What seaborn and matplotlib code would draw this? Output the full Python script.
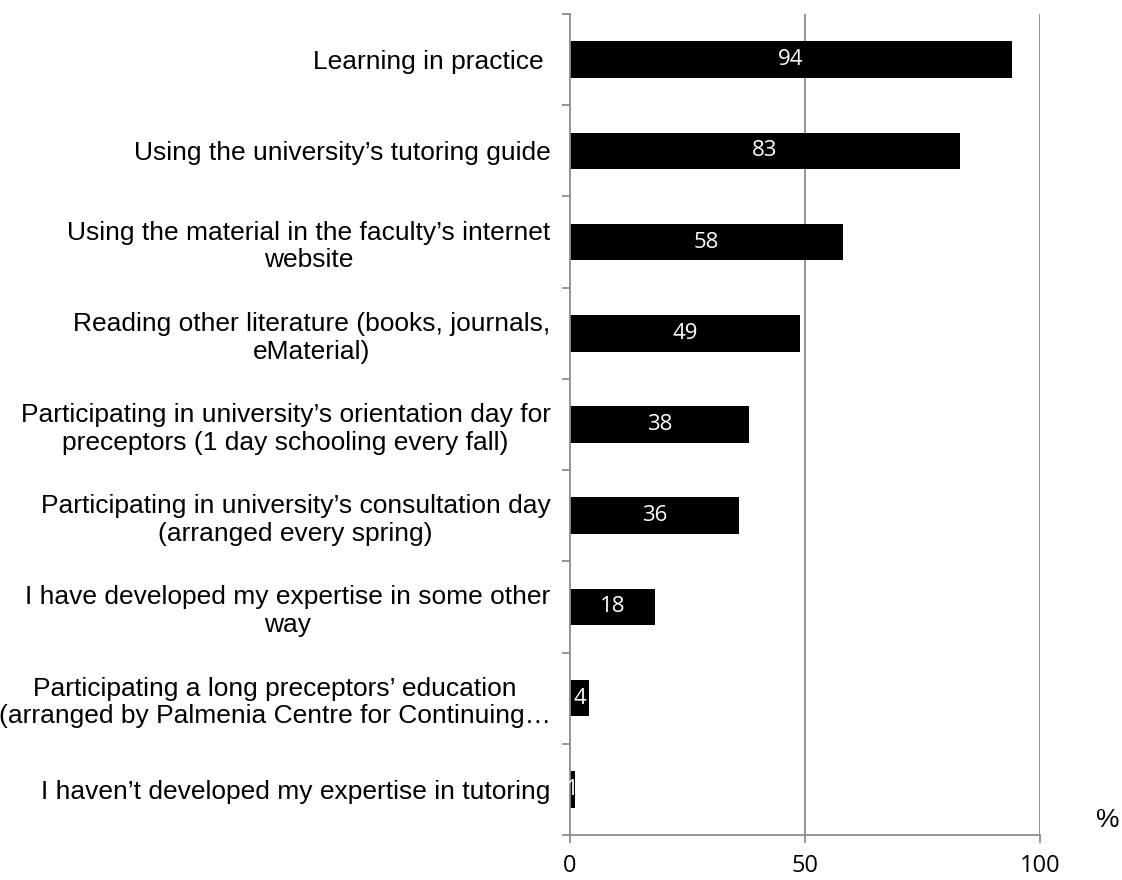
import matplotlib
matplotlib.use("Agg")
import matplotlib.pyplot as plt
import seaborn as sns
import pandas as pd
import numpy as np

categories = [
    "Learning in practice ",
    "Using the university\u2019s tutoring guide",
    "Using the material in the faculty\u2019s internet\nwebsite",
    "Reading other literature (books, journals,\neMaterial)",
    "Participating in university\u2019s orientation day for\npreceptors (1 day schooling every fall)",
    "Participating in university\u2019s consultation day\n(arranged every spring)",
    "I have developed my expertise in some other\nway",
    "Participating a long preceptors\u2019 education\n(arranged by Palmenia Centre for Continuing\u2026",
    "I haven\u2019t developed my expertise in tutoring",
]
values = [94, 83, 58, 49, 38, 36, 18, 4, 1]
xticks = [0, 50, 100]

df = pd.DataFrame({"cat": categories, "val": values})

sns.set_theme(style="white")
plt.rcParams['font.family'] = ['Liberation Sans', 'DejaVu Sans']
plt.rcParams['text.color'] = 'black'
plt.rcParams['xtick.color'] = 'black'
plt.rcParams['ytick.color'] = 'black'

fig = plt.figure(figsize=(11.22, 8.8), dpi=100)
ax = fig.add_axes([570/1122, 1-835/880, (1040-570)/1122, (835-14)/880])

sns.barplot(data=df, y="cat", x="val", orient="h", color="black",
            width=0.4, ax=ax, saturation=1, edgecolor="black", linewidth=0)

ax.set_xlim(0, 100)
ax.set_ylim(len(categories)-0.5, -0.5)
ax.set_xlabel("")
ax.set_ylabel("")

for x in [50, 100]:
    ax.axvline(x, color="#8c8c8c", lw=1.3, zorder=0)

for i, v in enumerate(values):
    ax.text(v/2, i, str(v), color="white", ha="center", va="center",
            fontsize=16, family=['Open Sans', 'DejaVu Sans'])

ax.set_xticks(xticks)
ax.set_xticklabels([str(t) for t in xticks], fontsize=17, family=['Open Sans', 'DejaVu Sans'])
ax.tick_params(axis='x', which='major', length=6, width=1.3, color="#8c8c8c",
               direction='out', pad=8, bottom=True, labelcolor='black')

ax.set_yticks(range(len(categories)))
ax.set_yticklabels(categories, fontsize=19, multialignment='center', linespacing=1.2)
ax.tick_params(axis='y', which='major', length=0, pad=14, labelcolor='black')
ax.set_yticks(np.arange(-0.5, len(categories)+0.5, 1), minor=True)
ax.tick_params(axis='y', which='minor', length=6, width=1.3, color="#8c8c8c",
               direction='out', left=True)

for s in ["top", "right"]:
    ax.spines[s].set_visible(False)
for s in ["left", "bottom"]:
    ax.spines[s].set_color("#8c8c8c")
    ax.spines[s].set_linewidth(1.3)

fig.text(1108/1122, 1-820/880, "%", fontsize=19, ha="center", va="center")

fig.savefig("out.png", dpi=100)
